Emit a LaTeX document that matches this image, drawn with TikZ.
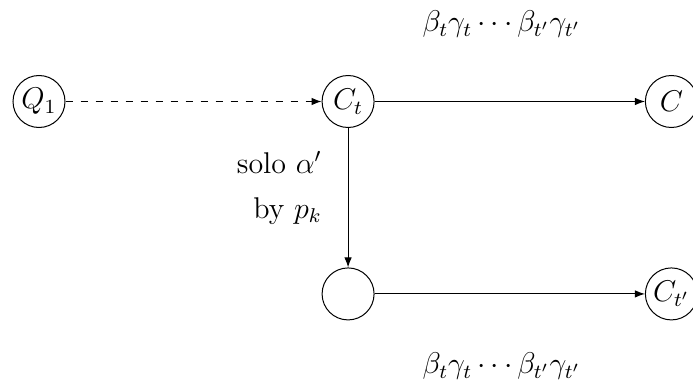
\documentclass[tikz,border=0pt]{standalone}
\usepackage{amsmath}
\usetikzlibrary{arrows.meta,positioning}

\begin{document}
\begin{tikzpicture}[
  font=\large, node distance=19.6mm and 38mm,
  st/.style={draw, circle, minimum size=20.8pt, inner sep=1pt},
  tr/.style={draw, -{Latex[length=4pt,width=3pt]}}
]
\useasboundingbox (-15.6pt,40.6pt) rectangle +(277.2pt,-155.2pt);
\node[st] (q1) {$Q_1$};
\node[st, right=36mm of q1] (ct) {$C_t$};
\node[st, right=of ct] (c) {$C$};
\node[st, below=of ct] (mid) {};
\node[st, right=of mid] (ctp) {$C_{t'}$};

\draw[tr, dashed] (q1) -- (ct);
\draw[tr] (ct) -- node[pos=0.47, above=22pt]{$\beta_t\gamma_t\cdots\beta_{t'}\gamma_{t'}$} (c);
\draw[tr] (ct) -- node[pos=0.43, left=7pt, align=right]{solo $\alpha'$\\[4pt]by $p_k$} (mid);
\draw[tr] (mid) -- node[pos=0.47, below=20pt]{$\beta_t\gamma_t\cdots\beta_{t'}\gamma_{t'}$} (ctp);
\end{tikzpicture}
\end{document}
